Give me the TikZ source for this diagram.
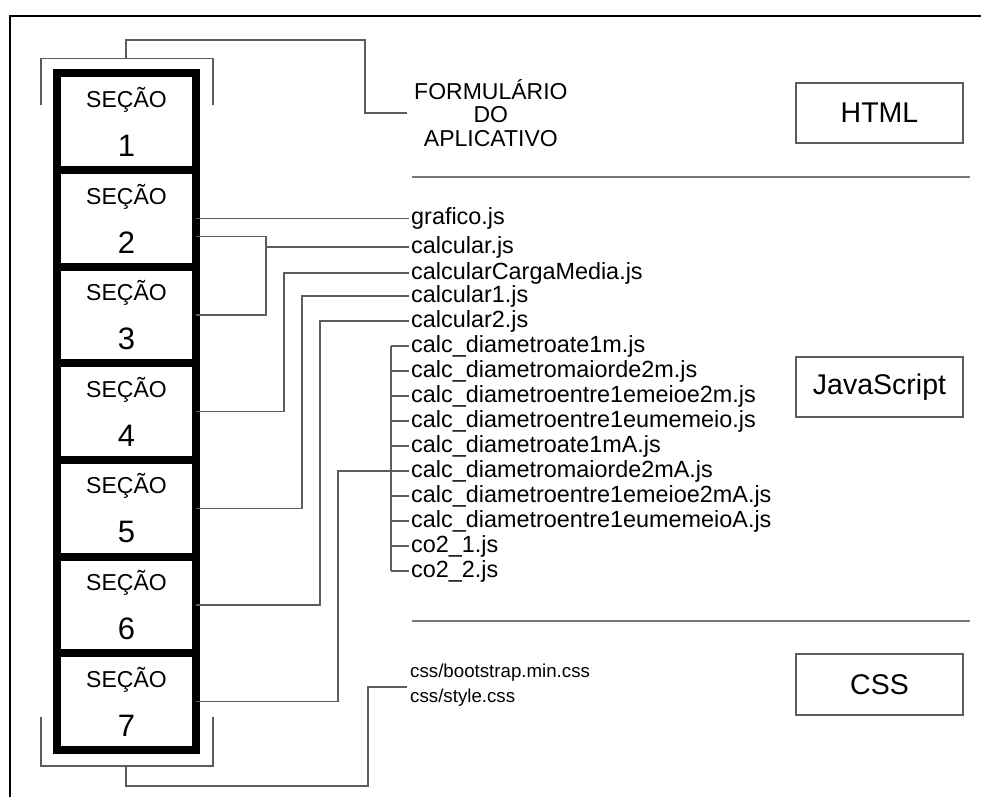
\documentclass[tikz,border=0pt]{standalone}
\usepackage{fontspec}
\setmainfont{Liberation Sans}
\usetikzlibrary{positioning,calc}
\definecolor{Wire}{HTML}{5C5C5C}
\definecolor{Rule}{HTML}{787878}
\tikzset{
  wire/.style={line width=1.2pt,draw=Wire},
  secbox/.style={draw=black,line width=8pt,outer sep=0pt,inner sep=0pt,minimum width=139pt,minimum height=96.64pt,align=center,font=\fontsize{23}{27}\selectfont},
  tagbox/.style={draw=Wire,line width=1.4pt,minimum width=167pt,minimum height=60pt,font=\fontsize{28.5}{30}\selectfont},
  jsfile/.style={anchor=base west,inner xsep=2pt,inner ysep=0pt,font=\fontsize{23.4}{25}\selectfont},
  seprule/.style={line width=1.8pt,draw=Rule}
}
% x-height middle of a file name
\newcommand{\fm}[1]{([yshift=6pt]js#1.base west)}

\begin{document}
\begin{tikzpicture}[x=1pt,y=-1pt]
  \useasboundingbox (0,0) rectangle (981,797);
  \draw[line width=2pt] (10,797) |- (981,16);
  % secoes
  \node[secbox] (sec1) at (126.5,121.8) {SEÇÃO\\[22pt]{\fontsize{31}{31}\selectfont 1}};
  \foreach \i [count=\prev] in {2,...,7}
    \node[secbox,below=0pt of sec\prev] (sec\i) {SEÇÃO\\[22pt]{\fontsize{31}{31}\selectfont \i}};
  % HTML
  \node[anchor=west,align=center,inner xsep=7pt,font=\fontsize{23}{23.5}\selectfont] (form) at (407,113) {FORMULÁRIO\\DO\\APLICATIVO};
  \node[tagbox] (html) at (879.5,113) {HTML};
  \coordinate (topbr) at (126,58.5);
  \draw[wire] (41,105) |- (213,58.5) -- (213,105);
  \draw[wire] (topbr) |- (365,40) |- (form.west);
  \draw[seprule] (412,177) -- (970,177);
  % JavaScript
  \foreach \f/\y [count=\n] in {grafico.js/218,calcular.js/247,calcularCargaMedia.js/273,calcular1.js/296,calcular2.js/321,
      calc\_diametroate1m.js/346,calc\_diametromaiorde2m.js/371,calc\_diametroentre1emeioe2m.js/396,
      calc\_diametroentre1eumemeio.js/421,calc\_diametroate1mA.js/446,calc\_diametromaiorde2mA.js/471,
      calc\_diametroentre1emeioe2mA.js/496,calc\_diametroentre1eumemeioA.js/521,co2\_1.js/546,co2\_2.js/571}
    \node[jsfile] (js\n) at (409,{\y+6}) {\f};
  \node[tagbox] (jscript) at (879.5,387) {JavaScript};
  \draw[wire] (sec2.east) -- (sec2.east -| js1.base west);
  \draw[wire] ([yshift=-18pt]sec2.east) -- ++(70pt,0) coordinate (fork) |- (sec3.east);
  \path \fm{2} coordinate (calc2in);
  \draw[wire] (calc2in) -- (fork |- calc2in);
  \draw[wire] (sec4.east) -| ([xshift=-125pt]js3.base west) |- \fm{3};
  \draw[wire] (sec5.east) -| ([xshift=-107pt]js4.base west) |- \fm{4};
  \draw[wire] (sec6.east) -| ([xshift=-89pt]js5.base west) |- \fm{5};
  \draw[wire] (sec7.east) -| ([xshift=-71pt]js11.base west) |- \fm{11};
  \draw[wire] ([xshift=-18pt,yshift=6pt]js6.base west) -- ([xshift=-18pt,yshift=6pt]js15.base west);
  \foreach \n in {6,...,15}
    \draw[wire] \fm{\n} -- ++(-18pt,0);
  \draw[seprule] (412,621) -- (970,621);
  % CSS
  \node[anchor=west,align=left,inner xsep=3pt,font=\fontsize{18.7}{25}\selectfont] (cssfiles) at (407,685) {css/bootstrap.min.css\\css/style.css};
  \node[tagbox,minimum height=61pt] (css) at (879.5,684.5) {CSS};
  \coordinate (botbr) at (126,766);
  \draw[wire] (41,717) |- (213,766) -- (213,717);
  \draw[wire] (botbr) |- (368,786) |- ([yshift=-2pt]cssfiles.west);
\end{tikzpicture}
\end{document}
